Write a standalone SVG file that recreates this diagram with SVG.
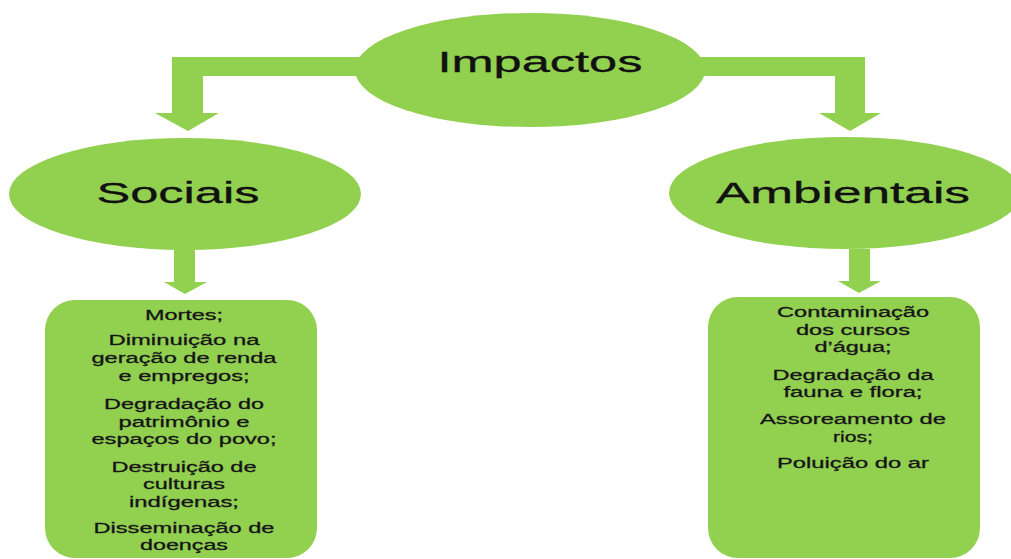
<svg xmlns="http://www.w3.org/2000/svg" width="1011" height="559" viewBox="0 0 1011 559">
<style>
.g{fill:#92d050}
.t{font-family:"Liberation Sans",Arial,sans-serif;fill:#111;text-anchor:middle}
.big{font-size:29px;stroke:#111;stroke-width:0.3}
.sm{font-size:14px;stroke:#222;stroke-width:0.3}
</style>
<rect width="1011" height="559" fill="#fff"/>
<g id="connectors" class="g">
<path d="M172,57 H540 V76 H203 V113 H219 L188,131 L155,113 H172 Z"/>
<path d="M520,57 H865 V113 H881 L850,131 L819,113 H835 V76 H520 Z"/>
<path d="M174,249 H195 V282 H207 L185,294 L164,282 H174 Z"/>
<path d="M849,249 H870 V281 H881 L859,293 L838,281 H849 Z"/>
</g>
<g id="impactos">
<ellipse class="g" cx="530" cy="70" rx="175" ry="57"/>
<text class="t big" x="540" y="72" textLength="205" lengthAdjust="spacingAndGlyphs">Impactos</text>
</g>
<g id="sociais">
<ellipse class="g" cx="185" cy="194" rx="176" ry="56"/>
<text class="t big" x="178" y="203" textLength="163" lengthAdjust="spacingAndGlyphs">Sociais</text>
</g>
<g id="ambientais">
<ellipse class="g" cx="845" cy="193" rx="176" ry="56"/>
<text class="t big" x="843" y="203" textLength="254" lengthAdjust="spacingAndGlyphs">Ambientais</text>
</g>
<g id="sociais-lista">
<rect class="g" x="45" y="300" width="272" height="258" rx="30" ry="30"/>
<text class="t sm" x="184" y="320" textLength="78" lengthAdjust="spacingAndGlyphs">Mortes;</text>
<text class="t sm" x="184" y="345" textLength="151" lengthAdjust="spacingAndGlyphs">Diminuição na</text>
<text class="t sm" x="184" y="363" textLength="185" lengthAdjust="spacingAndGlyphs">geração de renda</text>
<text class="t sm" x="184" y="381" textLength="131" lengthAdjust="spacingAndGlyphs">e empregos;</text>
<text class="t sm" x="184" y="409" textLength="160" lengthAdjust="spacingAndGlyphs">Degradação do</text>
<text class="t sm" x="184" y="427" textLength="131" lengthAdjust="spacingAndGlyphs">patrimônio e</text>
<text class="t sm" x="184" y="444" textLength="185" lengthAdjust="spacingAndGlyphs">espaços do povo;</text>
<text class="t sm" x="184" y="472" textLength="145" lengthAdjust="spacingAndGlyphs">Destruição de</text>
<text class="t sm" x="184" y="489" textLength="82" lengthAdjust="spacingAndGlyphs">culturas</text>
<text class="t sm" x="184" y="507" textLength="110" lengthAdjust="spacingAndGlyphs">indígenas;</text>
<text class="t sm" x="184" y="533" textLength="181" lengthAdjust="spacingAndGlyphs">Disseminação de</text>
<text class="t sm" x="184" y="550" textLength="88" lengthAdjust="spacingAndGlyphs">doenças</text>
</g>
<g id="ambientais-lista">
<rect class="g" x="708" y="297" width="272" height="261" rx="30" ry="30"/>
<text class="t sm" x="853" y="317" textLength="152" lengthAdjust="spacingAndGlyphs">Contaminação</text>
<text class="t sm" x="853" y="335" textLength="114" lengthAdjust="spacingAndGlyphs">dos cursos</text>
<text class="t sm" x="853" y="352" textLength="77" lengthAdjust="spacingAndGlyphs">d’água;</text>
<text class="t sm" x="853" y="380" textLength="161" lengthAdjust="spacingAndGlyphs">Degradação da</text>
<text class="t sm" x="853" y="397" textLength="139" lengthAdjust="spacingAndGlyphs">fauna e flora;</text>
<text class="t sm" x="853" y="424" textLength="186" lengthAdjust="spacingAndGlyphs">Assoreamento de</text>
<text class="t sm" x="853" y="442" textLength="40" lengthAdjust="spacingAndGlyphs">rios;</text>
<text class="t sm" x="853" y="468" textLength="152" lengthAdjust="spacingAndGlyphs">Poluição do ar</text>
</g>
</svg>
